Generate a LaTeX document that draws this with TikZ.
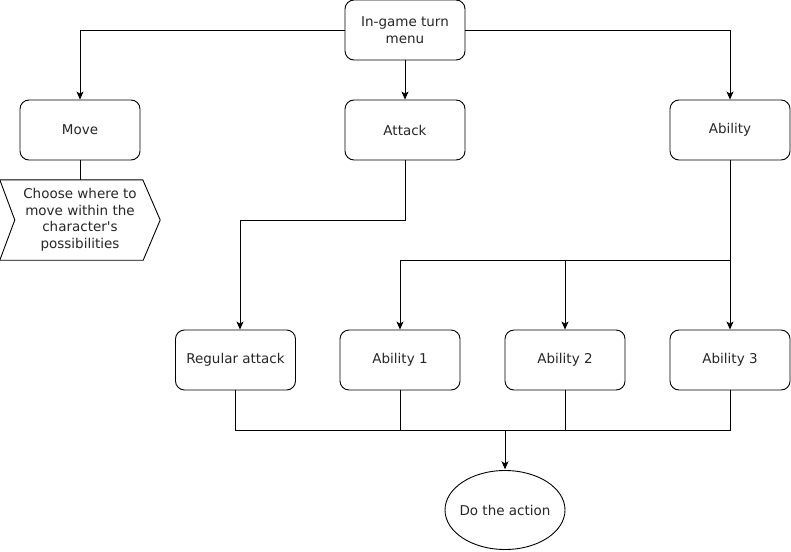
\documentclass[tikz,border=0pt]{standalone}
\usepackage{fontspec}
\setmainfont{DejaVu Sans}
\usetikzlibrary{arrows.meta,positioning,shapes.geometric}
\begin{document}
\begin{tikzpicture}[x=1pt,y=-1pt,
  every node/.style={font=\fontsize{13.5}{16.5}\selectfont, text=black!85},
  box/.style={draw, line width=0.9pt, rounded corners=9pt, minimum width=120pt, minimum height=60pt, align=center, inner sep=0pt},
  ovalarea/.style={minimum width=120pt, minimum height=80pt, inner sep=0pt},
  conn/.style={line width=0.9pt},
  arr/.style={conn, -{Stealth[length=8pt,width=7pt,inset=2pt]}}]
\useasboundingbox (0,0) rectangle (791,551);
\node[box] (menu) at (405,30) {In-game turn\\menu};
\node[box] (move) at (80,130) {Move};
\node[box] (attack) at (405,130) {Attack};
\node[box] (ability) at (730,130) {Ability};
\node[align=center, minimum width=160pt, minimum height=80pt, inner sep=0pt] (choose) at (80,220) {Choose where to\\move within the\\character\textquotesingle s\\possibilities};
\draw[line width=0.9pt] (choose.north west) -- ++(143,0) -- (choose.east) -- ([xshift=-17pt]choose.south east) -- (choose.south west) -- ([xshift=15pt]choose.west) -- cycle;
\node[box] (reg) at (235.5,360) {Regular attack};
\node[box] (ab1) at (400,360) {Ability 1};
\node[box] (ab2) at (565,360) {Ability 2};
\node[box] (ab3) at (730,360) {Ability 3};
\node[ovalarea] (act) at (505,510) {Do the action};
\draw[line width=0.9pt] (act.center) ellipse [x radius=60pt, y radius=39.5pt];
\coordinate (split) at (730,260);
\coordinate (join) at (505,430);
\coordinate (bend) at (240,220);
\draw[arr] (menu.west) -| (move.north);
\draw[arr] (menu.east) -| (ability.north);
\draw[arr] (menu.south) -- (attack.north);
\draw[conn] (move.south) -- (choose.north);
\draw[arr] (attack.south) |- (bend) -- (bend |- reg.north);
\draw[arr] (ability.south) -- (ab3.north);
\draw[arr] (split) -| (ab1.north);
\draw[arr] (ab2.north |- split) -- (ab2.north);
\draw[conn] (reg.south) |- (join);
\draw[conn] (ab3.south) |- (join);
\draw[conn] (ab1.south) -- (ab1.south |- join);
\draw[conn] (ab2.south) -- (ab2.south |- join);
\draw[arr] (join) -- ([yshift=0.5pt]act.north);
\end{tikzpicture}
\end{document}
